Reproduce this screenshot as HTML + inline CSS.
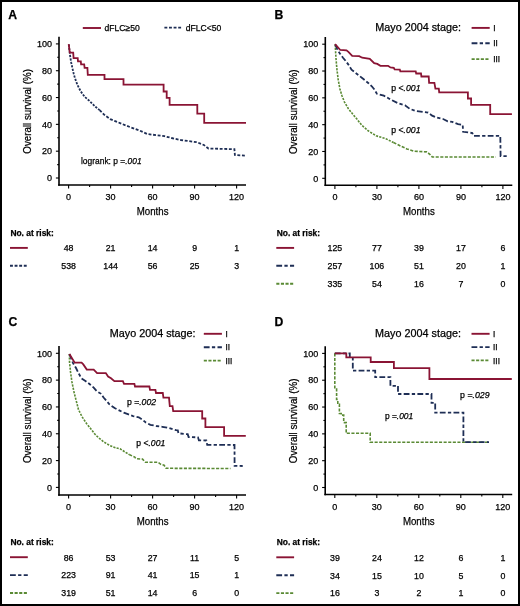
<!DOCTYPE html>
<html><head><meta charset="utf-8"><title>Survival curves</title>
<style>
html,body{margin:0;padding:0;background:#fff;}
body{width:520px;height:606px;overflow:hidden;}
svg{display:block;will-change:transform;}
svg text{font-family:"Liberation Sans", sans-serif;fill:#000;stroke:#000;stroke-width:0.25px;}
</style></head>
<body>
<svg width="520" height="606" viewBox="0 0 520 606">
<rect x="0" y="0" width="520" height="606" fill="#fff"/>
<text x="8.2" y="19.2" font-size="12.2" font-weight="bold">A</text>
<line x1="59" y1="36.7" x2="59" y2="185.75" stroke="#000" stroke-width="1.6"/>
<line x1="58.2" y1="185" x2="246" y2="185" stroke="#000" stroke-width="1.6"/>
<line x1="55.9" y1="178" x2="59" y2="178" stroke="#000" stroke-width="1.1"/>
<text x="52" y="181.2" text-anchor="end" font-size="9">0</text>
<line x1="57.2" y1="164.59" x2="59" y2="164.59" stroke="#000" stroke-width="1.1"/>
<line x1="55.9" y1="151.18" x2="59" y2="151.18" stroke="#000" stroke-width="1.1"/>
<text x="52" y="154.38" text-anchor="end" font-size="9">20</text>
<line x1="57.2" y1="137.77" x2="59" y2="137.77" stroke="#000" stroke-width="1.1"/>
<line x1="55.9" y1="124.36" x2="59" y2="124.36" stroke="#000" stroke-width="1.1"/>
<text x="52" y="127.56" text-anchor="end" font-size="9">40</text>
<line x1="57.2" y1="110.95" x2="59" y2="110.95" stroke="#000" stroke-width="1.1"/>
<line x1="55.9" y1="97.54" x2="59" y2="97.54" stroke="#000" stroke-width="1.1"/>
<text x="52" y="100.74" text-anchor="end" font-size="9">60</text>
<line x1="57.2" y1="84.13" x2="59" y2="84.13" stroke="#000" stroke-width="1.1"/>
<line x1="55.9" y1="70.72" x2="59" y2="70.72" stroke="#000" stroke-width="1.1"/>
<text x="52" y="73.92" text-anchor="end" font-size="9">80</text>
<line x1="57.2" y1="57.31" x2="59" y2="57.31" stroke="#000" stroke-width="1.1"/>
<line x1="55.9" y1="43.9" x2="59" y2="43.9" stroke="#000" stroke-width="1.1"/>
<text x="52" y="47.1" text-anchor="end" font-size="9">100</text>
<line x1="68.6" y1="185" x2="68.6" y2="188.6" stroke="#000" stroke-width="1.1"/>
<text x="68.6" y="200" text-anchor="middle" font-size="9">0</text>
<line x1="89.6" y1="185" x2="89.6" y2="186.9" stroke="#000" stroke-width="1.1"/>
<line x1="110.6" y1="185" x2="110.6" y2="188.6" stroke="#000" stroke-width="1.1"/>
<text x="110.6" y="200" text-anchor="middle" font-size="9">30</text>
<line x1="131.6" y1="185" x2="131.6" y2="186.9" stroke="#000" stroke-width="1.1"/>
<line x1="152.6" y1="185" x2="152.6" y2="188.6" stroke="#000" stroke-width="1.1"/>
<text x="152.6" y="200" text-anchor="middle" font-size="9">60</text>
<line x1="173.6" y1="185" x2="173.6" y2="186.9" stroke="#000" stroke-width="1.1"/>
<line x1="194.6" y1="185" x2="194.6" y2="188.6" stroke="#000" stroke-width="1.1"/>
<text x="194.6" y="200" text-anchor="middle" font-size="9">90</text>
<line x1="215.6" y1="185" x2="215.6" y2="186.9" stroke="#000" stroke-width="1.1"/>
<line x1="236.6" y1="185" x2="236.6" y2="188.6" stroke="#000" stroke-width="1.1"/>
<text x="236.6" y="200" text-anchor="middle" font-size="9">120</text>
<text x="152.6" y="215.1" text-anchor="middle" font-size="11.3" textLength="31.8" lengthAdjust="spacingAndGlyphs">Months</text>
<text transform="translate(31.1,111.4) rotate(-90)" text-anchor="middle" font-size="11" textLength="84.6" lengthAdjust="spacingAndGlyphs">Overall survival (%)</text>
<line x1="82.8" y1="28" x2="101" y2="28" stroke="#8a1434" stroke-width="1.9"/>
<text x="104.6" y="31.4" font-size="9" textLength="35.2" lengthAdjust="spacingAndGlyphs">dFLC≥50</text>
<line x1="164.4" y1="27.6" x2="181.4" y2="27.6" stroke="#1e2e55" stroke-width="1.8" stroke-dasharray="2.9 1.7"/>
<text x="185.8" y="31.4" font-size="9" textLength="35.6" lengthAdjust="spacingAndGlyphs">dFLC&lt;50</text>
<text x="81" y="163.5" font-size="8.8" textLength="60.6" lengthAdjust="spacingAndGlyphs">logrank: p =<tspan font-style="italic">.001</tspan></text>
<path d="M68.9,44.5 L69.5,51 L70.2,56.5 L71.2,62.5 L72.4,68.1 L73.6,73.3 L74.9,78 L77.3,84.6 L80.6,91.2 L84.8,96.9 L89.7,101.1 L93,104.4 L95.5,106.8 L99.6,110.1" fill="none" stroke="#1e2e55" stroke-width="1.8" stroke-dasharray="2.2 1.3" stroke-linejoin="miter"/>
<path d="M99.6,110.1 L104.6,115.1 L110.3,119.2 L114.5,120.9 L122.7,124.2 L131,127.5 L139.2,130.4 L147.3,134 L164.6,136.2 L171.5,138 L180.8,140 L197,142.2 L203.9,145 L208.5,148.5 L234.4,149.2 L234.9,155 L245.6,155.6" fill="none" stroke="#1e2e55" stroke-width="1.8" stroke-dasharray="2.9 1.7" stroke-linejoin="miter"/>
<path d="M68.7,44.1 L69.8,52.7 H73.2 L73.6,58.2 H77.7 L78,61.4 H80.8 L81.1,64.4 H84.2 L84.6,67.8 H87.4 L87.8,74.8 H104.5 V79.1 H123.5 V84.7 H163.6 V91.5 H166.7 V97.8 H169.6 V104.8 H197.3 V113.6 H204.2 V122.8 H246" fill="none" stroke="#8a1434" stroke-width="1.8" stroke-linejoin="miter"/>
<text x="10.4" y="235.8" font-size="8.6" font-weight="bold" textLength="43.4" lengthAdjust="spacingAndGlyphs">No. at risk:</text>
<line x1="10" y1="247.9" x2="27.8" y2="247.9" stroke="#8a1434" stroke-width="1.9"/>
<text x="68.6" y="251.2" text-anchor="middle" font-size="8.8">48</text>
<text x="110.6" y="251.2" text-anchor="middle" font-size="8.8">21</text>
<text x="152.6" y="251.2" text-anchor="middle" font-size="8.8">14</text>
<text x="194.6" y="251.2" text-anchor="middle" font-size="8.8">9</text>
<text x="236.6" y="251.2" text-anchor="middle" font-size="8.8">1</text>
<line x1="10" y1="265.8" x2="27.8" y2="265.8" stroke="#1e2e55" stroke-width="1.9" stroke-dasharray="2.9 1.7"/>
<text x="68.6" y="269.1" text-anchor="middle" font-size="8.8">538</text>
<text x="110.6" y="269.1" text-anchor="middle" font-size="8.8">144</text>
<text x="152.6" y="269.1" text-anchor="middle" font-size="8.8">56</text>
<text x="194.6" y="269.1" text-anchor="middle" font-size="8.8">25</text>
<text x="236.6" y="269.1" text-anchor="middle" font-size="8.8">3</text>
<text x="274.4" y="19.1" font-size="12.2" font-weight="bold">B</text>
<line x1="325.3" y1="37" x2="325.3" y2="186.05" stroke="#000" stroke-width="1.6"/>
<line x1="324.5" y1="185.3" x2="512.3" y2="185.3" stroke="#000" stroke-width="1.6"/>
<line x1="322.2" y1="178.3" x2="325.3" y2="178.3" stroke="#000" stroke-width="1.1"/>
<text x="318.3" y="181.5" text-anchor="end" font-size="9">0</text>
<line x1="323.5" y1="164.89" x2="325.3" y2="164.89" stroke="#000" stroke-width="1.1"/>
<line x1="322.2" y1="151.48" x2="325.3" y2="151.48" stroke="#000" stroke-width="1.1"/>
<text x="318.3" y="154.68" text-anchor="end" font-size="9">20</text>
<line x1="323.5" y1="138.07" x2="325.3" y2="138.07" stroke="#000" stroke-width="1.1"/>
<line x1="322.2" y1="124.66" x2="325.3" y2="124.66" stroke="#000" stroke-width="1.1"/>
<text x="318.3" y="127.86" text-anchor="end" font-size="9">40</text>
<line x1="323.5" y1="111.25" x2="325.3" y2="111.25" stroke="#000" stroke-width="1.1"/>
<line x1="322.2" y1="97.84" x2="325.3" y2="97.84" stroke="#000" stroke-width="1.1"/>
<text x="318.3" y="101.04" text-anchor="end" font-size="9">60</text>
<line x1="323.5" y1="84.43" x2="325.3" y2="84.43" stroke="#000" stroke-width="1.1"/>
<line x1="322.2" y1="71.02" x2="325.3" y2="71.02" stroke="#000" stroke-width="1.1"/>
<text x="318.3" y="74.22" text-anchor="end" font-size="9">80</text>
<line x1="323.5" y1="57.61" x2="325.3" y2="57.61" stroke="#000" stroke-width="1.1"/>
<line x1="322.2" y1="44.2" x2="325.3" y2="44.2" stroke="#000" stroke-width="1.1"/>
<text x="318.3" y="47.4" text-anchor="end" font-size="9">100</text>
<line x1="334.9" y1="185.3" x2="334.9" y2="188.9" stroke="#000" stroke-width="1.1"/>
<text x="334.9" y="200.3" text-anchor="middle" font-size="9">0</text>
<line x1="355.9" y1="185.3" x2="355.9" y2="187.2" stroke="#000" stroke-width="1.1"/>
<line x1="376.9" y1="185.3" x2="376.9" y2="188.9" stroke="#000" stroke-width="1.1"/>
<text x="376.9" y="200.3" text-anchor="middle" font-size="9">30</text>
<line x1="397.9" y1="185.3" x2="397.9" y2="187.2" stroke="#000" stroke-width="1.1"/>
<line x1="418.9" y1="185.3" x2="418.9" y2="188.9" stroke="#000" stroke-width="1.1"/>
<text x="418.9" y="200.3" text-anchor="middle" font-size="9">60</text>
<line x1="439.9" y1="185.3" x2="439.9" y2="187.2" stroke="#000" stroke-width="1.1"/>
<line x1="460.9" y1="185.3" x2="460.9" y2="188.9" stroke="#000" stroke-width="1.1"/>
<text x="460.9" y="200.3" text-anchor="middle" font-size="9">90</text>
<line x1="481.9" y1="185.3" x2="481.9" y2="187.2" stroke="#000" stroke-width="1.1"/>
<line x1="502.9" y1="185.3" x2="502.9" y2="188.9" stroke="#000" stroke-width="1.1"/>
<text x="502.9" y="200.3" text-anchor="middle" font-size="9">120</text>
<text x="418.9" y="215.4" text-anchor="middle" font-size="11.3" textLength="31.8" lengthAdjust="spacingAndGlyphs">Months</text>
<text transform="translate(297.4,111.7) rotate(-90)" text-anchor="middle" font-size="11" textLength="84.6" lengthAdjust="spacingAndGlyphs">Overall survival (%)</text>
<text x="375.3" y="30.5" font-size="10.7" textLength="85.8" lengthAdjust="spacingAndGlyphs">Mayo 2004 stage:</text>
<line x1="471.6" y1="27.9" x2="489.7" y2="27.9" stroke="#8a1434" stroke-width="1.9"/>
<text x="493.2" y="31" font-size="8.2">I</text>
<line x1="471.6" y1="43.3" x2="489.7" y2="43.3" stroke="#1e2e55" stroke-width="1.9" stroke-dasharray="5.8 2.3 3.3 2.3"/>
<text x="493.2" y="46.4" font-size="8.2">II</text>
<line x1="471.6" y1="59.1" x2="489.7" y2="59.1" stroke="#5a8a34" stroke-width="1.9" stroke-dasharray="3.1 1.5"/>
<text x="493.2" y="62.2" font-size="8.2">III</text>
<text x="391.3" y="91.2" font-size="8.6" textLength="29.2" lengthAdjust="spacingAndGlyphs">p &lt;<tspan font-style="italic">.001</tspan></text>
<text x="391.3" y="133.4" font-size="8.6" textLength="29.2" lengthAdjust="spacingAndGlyphs">p &lt;<tspan font-style="italic">.001</tspan></text>
<path d="M335.2,44.4 L335.9,57.2 L336.9,69.1 L338.2,79.6 L339.9,88.9 L341.9,95.5 L344.5,102.1 L348.4,108.7 L353.1,114.6 L357.1,119.3 L361.7,125.2 L368.5,131 L376.2,135.8 L385.8,138.7 L393.5,142.5" fill="none" stroke="#5a8a34" stroke-width="1.6" stroke-dasharray="2.2 1.2" stroke-linejoin="miter"/>
<path d="M393.5,142.5 L401.2,146.3 L406.9,148.9 L413.9,151.2 L426.6,151.9 L429.5,154 L432.3,157 L495.8,157" fill="none" stroke="#5a8a34" stroke-width="1.6" stroke-dasharray="3.1 1.5" stroke-linejoin="miter"/>
<path d="M335.2,44.4 L337.6,50 L339.9,53.5 L343,57.7 L346.1,61.5 L348.4,64.6 L351.5,69.6 L357.3,74.2 L363.1,78.8 L368.8,83.5 L372,86.5 L374.6,89.8 L376.9,93.8 L383.8,95.6 L390.7,99.6 L397.7,103.1 L405,105.2 L409.6,108.7 L415.4,111 L428.1,112.5 L432.1,115.6 L436.1,117.3 L443.1,119 L447.7,121.3 L452.3,121.9 L458.1,124.2 L462.7,124.8 L463.1,131.8 L472.3,133 L473.5,135.9 L500.3,135.9 L500.6,156 L508,156.2" fill="none" stroke="#1e2e55" stroke-width="1.8" stroke-dasharray="5.8 2.3 3.3 2.3" stroke-linejoin="miter"/>
<path d="M335.1,44.2 L340.3,50 L346.5,50.4 L348.4,51.9 L352.2,55.8 L359.2,56.2 L362.2,57.7 L369.8,58.8 L374.2,63.2 L377.3,63.9 L380.4,65.8 L388.1,65.8 L390.4,67.4 L393.8,67.8 L394.6,69.3 L399.8,69.5 L400.3,71.3 H415.7 L416.2,73.5 H421 L421.4,76.5 H428.7 L429.1,82.8 H434.4 L435.4,88.6 H438.8 L439.2,92.3 H467.9 V98.5 H471.1 V104.9 H490.2 V114.1 H511.9" fill="none" stroke="#8a1434" stroke-width="1.8" stroke-linejoin="miter"/>
<text x="276.7" y="235.8" font-size="8.6" font-weight="bold" textLength="43.4" lengthAdjust="spacingAndGlyphs">No. at risk:</text>
<line x1="276.3" y1="247.9" x2="294.1" y2="247.9" stroke="#8a1434" stroke-width="1.9"/>
<text x="334.9" y="251.2" text-anchor="middle" font-size="8.8">125</text>
<text x="376.9" y="251.2" text-anchor="middle" font-size="8.8">77</text>
<text x="418.9" y="251.2" text-anchor="middle" font-size="8.8">39</text>
<text x="460.9" y="251.2" text-anchor="middle" font-size="8.8">17</text>
<text x="502.9" y="251.2" text-anchor="middle" font-size="8.8">6</text>
<line x1="276.3" y1="265.8" x2="294.1" y2="265.8" stroke="#1e2e55" stroke-width="1.9" stroke-dasharray="5.8 2.3 3.3 2.3"/>
<text x="334.9" y="269.1" text-anchor="middle" font-size="8.8">257</text>
<text x="376.9" y="269.1" text-anchor="middle" font-size="8.8">106</text>
<text x="418.9" y="269.1" text-anchor="middle" font-size="8.8">51</text>
<text x="460.9" y="269.1" text-anchor="middle" font-size="8.8">20</text>
<text x="502.9" y="269.1" text-anchor="middle" font-size="8.8">1</text>
<line x1="276.3" y1="283.7" x2="294.1" y2="283.7" stroke="#5a8a34" stroke-width="1.9" stroke-dasharray="3.1 1.5"/>
<text x="334.9" y="287" text-anchor="middle" font-size="8.8">335</text>
<text x="376.9" y="287" text-anchor="middle" font-size="8.8">54</text>
<text x="418.9" y="287" text-anchor="middle" font-size="8.8">16</text>
<text x="460.9" y="287" text-anchor="middle" font-size="8.8">7</text>
<text x="502.9" y="287" text-anchor="middle" font-size="8.8">0</text>
<text x="8.6" y="325.7" font-size="12.2" font-weight="bold">C</text>
<line x1="59" y1="346.1" x2="59" y2="495.75" stroke="#000" stroke-width="1.6"/>
<line x1="58.2" y1="495" x2="246" y2="495" stroke="#000" stroke-width="1.6"/>
<line x1="55.9" y1="487.4" x2="59" y2="487.4" stroke="#000" stroke-width="1.1"/>
<text x="52" y="490.6" text-anchor="end" font-size="9">0</text>
<line x1="57.2" y1="473.99" x2="59" y2="473.99" stroke="#000" stroke-width="1.1"/>
<line x1="55.9" y1="460.58" x2="59" y2="460.58" stroke="#000" stroke-width="1.1"/>
<text x="52" y="463.78" text-anchor="end" font-size="9">20</text>
<line x1="57.2" y1="447.17" x2="59" y2="447.17" stroke="#000" stroke-width="1.1"/>
<line x1="55.9" y1="433.76" x2="59" y2="433.76" stroke="#000" stroke-width="1.1"/>
<text x="52" y="436.96" text-anchor="end" font-size="9">40</text>
<line x1="57.2" y1="420.35" x2="59" y2="420.35" stroke="#000" stroke-width="1.1"/>
<line x1="55.9" y1="406.94" x2="59" y2="406.94" stroke="#000" stroke-width="1.1"/>
<text x="52" y="410.14" text-anchor="end" font-size="9">60</text>
<line x1="57.2" y1="393.53" x2="59" y2="393.53" stroke="#000" stroke-width="1.1"/>
<line x1="55.9" y1="380.12" x2="59" y2="380.12" stroke="#000" stroke-width="1.1"/>
<text x="52" y="383.32" text-anchor="end" font-size="9">80</text>
<line x1="57.2" y1="366.71" x2="59" y2="366.71" stroke="#000" stroke-width="1.1"/>
<line x1="55.9" y1="353.3" x2="59" y2="353.3" stroke="#000" stroke-width="1.1"/>
<text x="52" y="356.5" text-anchor="end" font-size="9">100</text>
<line x1="68.6" y1="495" x2="68.6" y2="498.6" stroke="#000" stroke-width="1.1"/>
<text x="68.6" y="510" text-anchor="middle" font-size="9">0</text>
<line x1="89.6" y1="495" x2="89.6" y2="496.9" stroke="#000" stroke-width="1.1"/>
<line x1="110.6" y1="495" x2="110.6" y2="498.6" stroke="#000" stroke-width="1.1"/>
<text x="110.6" y="510" text-anchor="middle" font-size="9">30</text>
<line x1="131.6" y1="495" x2="131.6" y2="496.9" stroke="#000" stroke-width="1.1"/>
<line x1="152.6" y1="495" x2="152.6" y2="498.6" stroke="#000" stroke-width="1.1"/>
<text x="152.6" y="510" text-anchor="middle" font-size="9">60</text>
<line x1="173.6" y1="495" x2="173.6" y2="496.9" stroke="#000" stroke-width="1.1"/>
<line x1="194.6" y1="495" x2="194.6" y2="498.6" stroke="#000" stroke-width="1.1"/>
<text x="194.6" y="510" text-anchor="middle" font-size="9">90</text>
<line x1="215.6" y1="495" x2="215.6" y2="496.9" stroke="#000" stroke-width="1.1"/>
<line x1="236.6" y1="495" x2="236.6" y2="498.6" stroke="#000" stroke-width="1.1"/>
<text x="236.6" y="510" text-anchor="middle" font-size="9">120</text>
<text x="152.6" y="525.1" text-anchor="middle" font-size="11.3" textLength="31.8" lengthAdjust="spacingAndGlyphs">Months</text>
<text transform="translate(31.1,420.8) rotate(-90)" text-anchor="middle" font-size="11" textLength="84.6" lengthAdjust="spacingAndGlyphs">Overall survival (%)</text>
<text x="109.8" y="337" font-size="10.7" textLength="85.8" lengthAdjust="spacingAndGlyphs">Mayo 2004 stage:</text>
<line x1="203.8" y1="333.8" x2="221.9" y2="333.8" stroke="#8a1434" stroke-width="1.9"/>
<text x="225.4" y="336.9" font-size="8.2">I</text>
<line x1="203.8" y1="347.2" x2="221.9" y2="347.2" stroke="#1e2e55" stroke-width="1.9" stroke-dasharray="5.8 2.3 3.3 2.3"/>
<text x="225.4" y="350.3" font-size="8.2">II</text>
<line x1="203.8" y1="360.6" x2="221.9" y2="360.6" stroke="#5a8a34" stroke-width="1.9" stroke-dasharray="3.1 1.5"/>
<text x="225.4" y="363.7" font-size="8.2">III</text>
<text x="126.9" y="405.1" font-size="8.6" textLength="29.2" lengthAdjust="spacingAndGlyphs">p =<tspan font-style="italic">.002</tspan></text>
<text x="136.3" y="446" font-size="8.6" textLength="28.9" lengthAdjust="spacingAndGlyphs">p &lt;<tspan font-style="italic">.001</tspan></text>
<path d="M69.4,354 L69.5,361.9 L70.5,371.8 L71.9,381.7 L73.9,391.6 L75.9,399.5 L78.5,409.6 L81.9,416.5 L86.5,423.5 L91.1,429.2 L94.6,433.8 L98.1,437.3 L103.8,441.9 L109.6,445.4 L115.4,447.7 L120,448.8 L124.6,451.7 L129.2,454.6" fill="none" stroke="#5a8a34" stroke-width="1.6" stroke-dasharray="2.2 1.2" stroke-linejoin="miter"/>
<path d="M129.2,454.6 L134.8,457.1 L135.8,458.6 L142.5,459.1 L145.4,462.2 L157.9,462.2 L160.8,464.3 L164.1,465.3 L166.1,468.3 L230.5,468.5" fill="none" stroke="#5a8a34" stroke-width="1.6" stroke-dasharray="3.1 1.5" stroke-linejoin="miter"/>
<path d="M69.4,354 L72.9,362.9 L75.9,367.8 L78.9,373.8 L81.3,378.2 L85.8,381.2 L89.8,384.2 L93.7,387.6 L96.7,391.1 L100.7,393.6 L103.6,397.5 L106.6,401 L109.6,404.5 L114.6,408.1 L119.2,410.4 L123.8,412.7 L128.5,414.4 L133.1,416.1 L138.8,417.3 L142.3,419.6 L145.8,422.5 L150.4,424.8 L156.1,426 L162.3,426.8 L169.2,428.1 L176.1,430.2 L177.8,430.4 L178.4,433.3 L187.7,434.2 L188.6,437.1 L198,437.3 L198.9,440.3 L206.3,440.5 L207.2,444.8 L234.5,445 L234.6,465.8 L242.7,466" fill="none" stroke="#1e2e55" stroke-width="1.8" stroke-dasharray="5.8 2.3 3.3 2.3" stroke-linejoin="miter"/>
<path d="M69.4,354 L74.7,362.7 H81.6 L83.3,364.4 L86.8,369.6 H93.7 L97.1,373.1 H105.8 L108.1,376.5 L111,378.3 L114.4,381.2 H122.9 L124,383.8 H134.4 L135,386.5 H149.4 L150,389.8 H155.4 L156,393 H162.8 L163.4,397.6 H169 L169.8,406.2 H172.5 L173.2,411.2 H202.2 V418.5 H205.4 V427.2 H224.1 V435.9 H245.8" fill="none" stroke="#8a1434" stroke-width="1.8" stroke-linejoin="miter"/>
<text x="10.4" y="545.1" font-size="8.6" font-weight="bold" textLength="43.4" lengthAdjust="spacingAndGlyphs">No. at risk:</text>
<line x1="10" y1="557.2" x2="27.8" y2="557.2" stroke="#8a1434" stroke-width="1.9"/>
<text x="68.6" y="560.5" text-anchor="middle" font-size="8.8">86</text>
<text x="110.6" y="560.5" text-anchor="middle" font-size="8.8">53</text>
<text x="152.6" y="560.5" text-anchor="middle" font-size="8.8">27</text>
<text x="194.6" y="560.5" text-anchor="middle" font-size="8.8">11</text>
<text x="236.6" y="560.5" text-anchor="middle" font-size="8.8">5</text>
<line x1="10" y1="575.1" x2="27.8" y2="575.1" stroke="#1e2e55" stroke-width="1.9" stroke-dasharray="5.8 2.3 3.3 2.3"/>
<text x="68.6" y="578.4" text-anchor="middle" font-size="8.8">223</text>
<text x="110.6" y="578.4" text-anchor="middle" font-size="8.8">91</text>
<text x="152.6" y="578.4" text-anchor="middle" font-size="8.8">41</text>
<text x="194.6" y="578.4" text-anchor="middle" font-size="8.8">15</text>
<text x="236.6" y="578.4" text-anchor="middle" font-size="8.8">1</text>
<line x1="10" y1="593" x2="27.8" y2="593" stroke="#5a8a34" stroke-width="1.9" stroke-dasharray="3.1 1.5"/>
<text x="68.6" y="596.3" text-anchor="middle" font-size="8.8">319</text>
<text x="110.6" y="596.3" text-anchor="middle" font-size="8.8">51</text>
<text x="152.6" y="596.3" text-anchor="middle" font-size="8.8">14</text>
<text x="194.6" y="596.3" text-anchor="middle" font-size="8.8">6</text>
<text x="236.6" y="596.3" text-anchor="middle" font-size="8.8">0</text>
<text x="274.5" y="325.7" font-size="12.2" font-weight="bold">D</text>
<line x1="325.2" y1="346.2" x2="325.2" y2="495.25" stroke="#000" stroke-width="1.6"/>
<line x1="324.4" y1="494.5" x2="512.2" y2="494.5" stroke="#000" stroke-width="1.6"/>
<line x1="322.1" y1="487.5" x2="325.2" y2="487.5" stroke="#000" stroke-width="1.1"/>
<text x="318.2" y="490.7" text-anchor="end" font-size="9">0</text>
<line x1="323.4" y1="474.09" x2="325.2" y2="474.09" stroke="#000" stroke-width="1.1"/>
<line x1="322.1" y1="460.68" x2="325.2" y2="460.68" stroke="#000" stroke-width="1.1"/>
<text x="318.2" y="463.88" text-anchor="end" font-size="9">20</text>
<line x1="323.4" y1="447.27" x2="325.2" y2="447.27" stroke="#000" stroke-width="1.1"/>
<line x1="322.1" y1="433.86" x2="325.2" y2="433.86" stroke="#000" stroke-width="1.1"/>
<text x="318.2" y="437.06" text-anchor="end" font-size="9">40</text>
<line x1="323.4" y1="420.45" x2="325.2" y2="420.45" stroke="#000" stroke-width="1.1"/>
<line x1="322.1" y1="407.04" x2="325.2" y2="407.04" stroke="#000" stroke-width="1.1"/>
<text x="318.2" y="410.24" text-anchor="end" font-size="9">60</text>
<line x1="323.4" y1="393.63" x2="325.2" y2="393.63" stroke="#000" stroke-width="1.1"/>
<line x1="322.1" y1="380.22" x2="325.2" y2="380.22" stroke="#000" stroke-width="1.1"/>
<text x="318.2" y="383.42" text-anchor="end" font-size="9">80</text>
<line x1="323.4" y1="366.81" x2="325.2" y2="366.81" stroke="#000" stroke-width="1.1"/>
<line x1="322.1" y1="353.4" x2="325.2" y2="353.4" stroke="#000" stroke-width="1.1"/>
<text x="318.2" y="356.6" text-anchor="end" font-size="9">100</text>
<line x1="334.8" y1="494.5" x2="334.8" y2="498.1" stroke="#000" stroke-width="1.1"/>
<text x="334.8" y="509.5" text-anchor="middle" font-size="9">0</text>
<line x1="355.8" y1="494.5" x2="355.8" y2="496.4" stroke="#000" stroke-width="1.1"/>
<line x1="376.8" y1="494.5" x2="376.8" y2="498.1" stroke="#000" stroke-width="1.1"/>
<text x="376.8" y="509.5" text-anchor="middle" font-size="9">30</text>
<line x1="397.8" y1="494.5" x2="397.8" y2="496.4" stroke="#000" stroke-width="1.1"/>
<line x1="418.8" y1="494.5" x2="418.8" y2="498.1" stroke="#000" stroke-width="1.1"/>
<text x="418.8" y="509.5" text-anchor="middle" font-size="9">60</text>
<line x1="439.8" y1="494.5" x2="439.8" y2="496.4" stroke="#000" stroke-width="1.1"/>
<line x1="460.8" y1="494.5" x2="460.8" y2="498.1" stroke="#000" stroke-width="1.1"/>
<text x="460.8" y="509.5" text-anchor="middle" font-size="9">90</text>
<line x1="481.8" y1="494.5" x2="481.8" y2="496.4" stroke="#000" stroke-width="1.1"/>
<line x1="502.8" y1="494.5" x2="502.8" y2="498.1" stroke="#000" stroke-width="1.1"/>
<text x="502.8" y="509.5" text-anchor="middle" font-size="9">120</text>
<text x="418.8" y="524.6" text-anchor="middle" font-size="11.3" textLength="31.8" lengthAdjust="spacingAndGlyphs">Months</text>
<text transform="translate(297.3,420.9) rotate(-90)" text-anchor="middle" font-size="11" textLength="84.6" lengthAdjust="spacingAndGlyphs">Overall survival (%)</text>
<text x="375.1" y="337" font-size="10.7" textLength="85.8" lengthAdjust="spacingAndGlyphs">Mayo 2004 stage:</text>
<line x1="471.5" y1="333.8" x2="489.6" y2="333.8" stroke="#8a1434" stroke-width="1.9"/>
<text x="493.1" y="336.9" font-size="8.2">I</text>
<line x1="471.5" y1="347.1" x2="489.6" y2="347.1" stroke="#1e2e55" stroke-width="1.9" stroke-dasharray="5.8 2.3 3.3 2.3"/>
<text x="493.1" y="350.2" font-size="8.2">II</text>
<line x1="471.5" y1="360.4" x2="489.6" y2="360.4" stroke="#5a8a34" stroke-width="1.9" stroke-dasharray="3.1 1.5"/>
<text x="493.1" y="363.5" font-size="8.2">III</text>
<text x="460.1" y="397.7" font-size="8.6" textLength="29.4" lengthAdjust="spacingAndGlyphs">p =<tspan font-style="italic">.029</tspan></text>
<text x="384.9" y="419.3" font-size="8.6" textLength="28.3" lengthAdjust="spacingAndGlyphs">p =<tspan font-style="italic">.001</tspan></text>
<path d="M334.8,353.3 V389 H336.6 V399.5 H337.8 V404.4 H339.4 V413.5 H341.2 V415.1 H343.7 V422.6 H346.2 V433.3 H370.2 V442.3 H488" fill="none" stroke="#5a8a34" stroke-width="1.6" stroke-dasharray="3.1 1.5" stroke-linejoin="miter"/>
<path d="M334.8,353.3 H349.8 V357 H352.8 V370.6 H375.2 V377.2 H390.4 V385.8 H398 V394 H431.5 V402.8 H435.2 V412.7 H463.4 V442.2 H489" fill="none" stroke="#1e2e55" stroke-width="1.8" stroke-dasharray="5.8 2.3 3.3 2.3" stroke-linejoin="miter"/>
<path d="M334.8,353.3 H346.3 V357.3 H370.7 V362 H393.9 V368.1 H429.4 V379 H511.8" fill="none" stroke="#8a1434" stroke-width="1.8" stroke-linejoin="miter"/>
<text x="276.7" y="545.2" font-size="8.6" font-weight="bold" textLength="43.4" lengthAdjust="spacingAndGlyphs">No. at risk:</text>
<line x1="276.3" y1="557.3" x2="294.1" y2="557.3" stroke="#8a1434" stroke-width="1.9"/>
<text x="334.9" y="560.6" text-anchor="middle" font-size="8.8">39</text>
<text x="376.9" y="560.6" text-anchor="middle" font-size="8.8">24</text>
<text x="418.9" y="560.6" text-anchor="middle" font-size="8.8">12</text>
<text x="460.9" y="560.6" text-anchor="middle" font-size="8.8">6</text>
<text x="502.9" y="560.6" text-anchor="middle" font-size="8.8">1</text>
<line x1="276.3" y1="575.2" x2="294.1" y2="575.2" stroke="#1e2e55" stroke-width="1.9" stroke-dasharray="5.8 2.3 3.3 2.3"/>
<text x="334.9" y="578.5" text-anchor="middle" font-size="8.8">34</text>
<text x="376.9" y="578.5" text-anchor="middle" font-size="8.8">15</text>
<text x="418.9" y="578.5" text-anchor="middle" font-size="8.8">10</text>
<text x="460.9" y="578.5" text-anchor="middle" font-size="8.8">5</text>
<text x="502.9" y="578.5" text-anchor="middle" font-size="8.8">0</text>
<line x1="276.3" y1="593.1" x2="294.1" y2="593.1" stroke="#5a8a34" stroke-width="1.9" stroke-dasharray="3.1 1.5"/>
<text x="334.9" y="596.4" text-anchor="middle" font-size="8.8">16</text>
<text x="376.9" y="596.4" text-anchor="middle" font-size="8.8">3</text>
<text x="418.9" y="596.4" text-anchor="middle" font-size="8.8">2</text>
<text x="460.9" y="596.4" text-anchor="middle" font-size="8.8">1</text>
<text x="502.9" y="596.4" text-anchor="middle" font-size="8.8">0</text>
<rect x="1" y="1" width="518" height="604" fill="none" stroke="#000" stroke-width="2"/>
</svg>
</body></html>
